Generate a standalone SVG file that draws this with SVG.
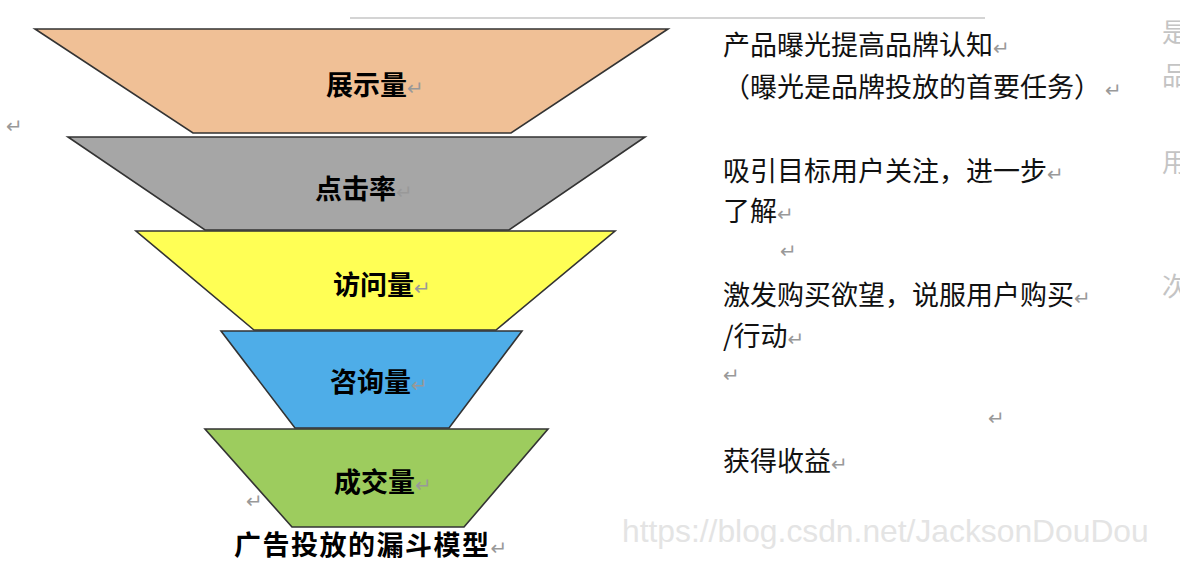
<svg xmlns="http://www.w3.org/2000/svg" width="1180" height="580" viewBox="0 0 1180 580">
<style>
.trap{stroke:#333;stroke-width:1.6;stroke-linejoin:miter}
.lbl{font-family:"Noto Sans CJK SC","Noto Sans CJK JP",sans-serif;font-weight:bold;font-size:27px;fill:#000;text-anchor:start}
.txt{font-family:"Noto Sans CJK SC","Noto Sans CJK JP",sans-serif;font-size:27px;fill:#111}
.ret{font-family:"DejaVu Sans",sans-serif;font-size:20px;fill:#999;font-weight:normal}
.edge{font-family:"Noto Sans CJK SC",sans-serif;font-size:26px;fill:#c4c4c4}
.wm{font-family:"Liberation Sans",Arial,sans-serif;font-size:31.8px;fill:#e4e4e4}
</style>
<rect width="1180" height="580" fill="#fff"/>
<line x1="350" y1="18" x2="985" y2="18" stroke="#d4d4d4" stroke-width="2"/>
<g id="page-edge">
<text class="edge" x="1162" y="42">是</text>
<text class="edge" x="1162" y="85">品</text>
<text class="edge" x="1162" y="172">用</text>
<text class="edge" x="1162" y="296">次</text>
<text class="ret" x="6" y="133">↵</text>
</g>
<text class="wm" x="622" y="542">https://blog.csdn.net/JacksonDouDou</text>
<g id="connectors"/>
<g id="stage-show">
<polygon class="trap" points="35,29 668,29 511,133 193,133" fill="#F0C096"/>
<text class="lbl" x="326" y="95">展示量<tspan class="ret">↵</tspan></text>
</g>
<g id="stage-click">
<polygon class="trap" points="68,137 645,137 509,230 205,230" fill="#A6A6A6"/>
<text class="lbl" x="315" y="199">点击率<tspan class="ret">↵</tspan></text>
</g>
<g id="stage-visit">
<polygon class="trap" points="136,231 615,231 496,330 254,330" fill="#FFFF55"/>
<text class="lbl" x="333" y="295">访问量<tspan class="ret">↵</tspan></text>
</g>
<g id="stage-consult">
<polygon class="trap" points="221,331 522,331 449,428 295,428" fill="#4EADE8"/>
<text class="lbl" x="330" y="392">咨询量<tspan class="ret">↵</tspan></text>
</g>
<g id="stage-deal">
<polygon class="trap" points="205,429 548,429 464,527 292,527" fill="#9DCC5E"/>
<text class="lbl" x="334" y="492">成交量<tspan class="ret">↵</tspan></text>
<text class="ret" x="246" y="508">↵</text>
</g>
<g id="caption">
<text class="lbl" x="234" y="555" style="letter-spacing:1.5px">广告投放的漏斗模型<tspan class="ret" style="letter-spacing:0">↵</tspan></text>
</g>
<g id="descriptions">
<text class="txt" x="723" y="55">产品曝光提高品牌认知<tspan class="ret">↵</tspan></text>
<text class="txt" x="723" y="97">（曝光是品牌投放的首要任务）<tspan class="ret" dx="4">↵</tspan></text>
<text class="txt" x="723" y="181">吸引目标用户关注，进一步<tspan class="ret">↵</tspan></text>
<text class="txt" x="723" y="221">了解<tspan class="ret">↵</tspan></text>
<text class="ret" x="780" y="258">↵</text>
<text class="txt" x="723" y="305">激发购买欲望，说服用户购买<tspan class="ret">↵</tspan></text>
<text class="txt" x="723" y="346">/行动<tspan class="ret">↵</tspan></text>
<text class="ret" x="723" y="382">↵</text>
<text class="ret" x="988" y="425">↵</text>
<text class="txt" x="723" y="471">获得收益<tspan class="ret">↵</tspan></text>
</g>
</svg>
